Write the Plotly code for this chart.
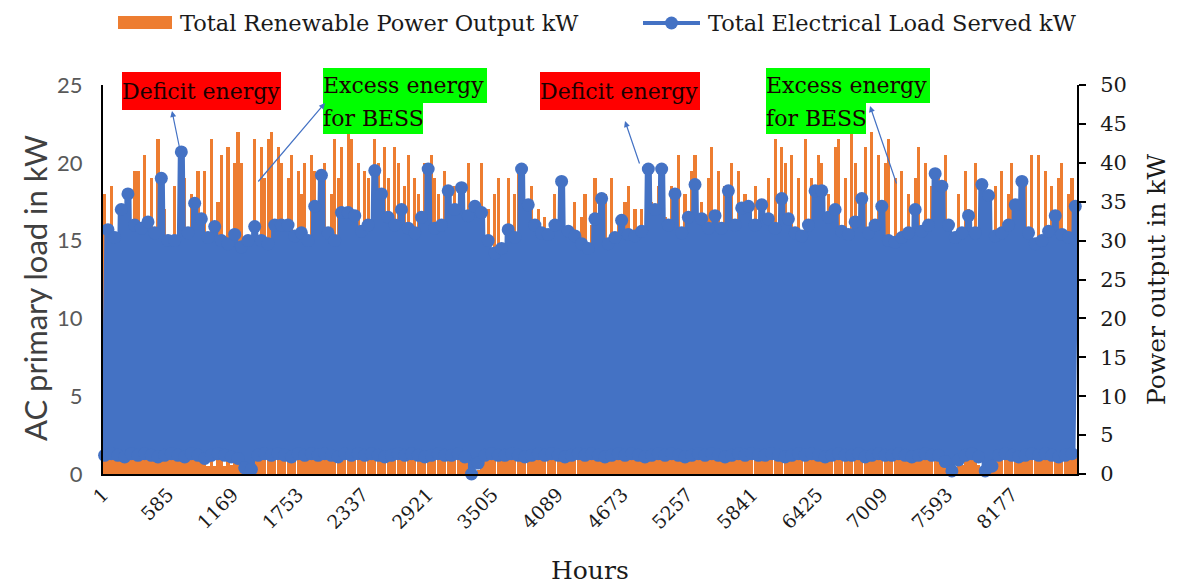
import plotly.graph_objects as go

# x axis labels (hour index, every 584 h like the Excel category axis)
hour_ticks = [1, 585, 1169, 1753, 2337, 2921, 3505, 4089, 4673, 5257, 5841, 6425, 7009, 7593, 8177]

# Total Electrical Load Served kW, read per 60 h block: peak and trough (left axis)
load_peak = [
    15.7, 15.2, 17.0, 18.0, 16.0, 15.8, 16.2, 15.5, 19.0, 15.0,
    15.0, 20.7, 15.5, 17.4, 16.4, 15.2, 15.9, 15.0, 14.8, 15.4,
    14.6, 15.0, 15.9, 15.0, 14.8, 16.0, 16.0, 16.0, 15.3, 15.5,
    15.0, 17.2, 19.2, 15.5, 15.0, 16.8, 16.8, 16.6, 15.6, 16.0,
    19.5, 18.0, 16.5, 16.0, 17.0, 15.8, 15.5, 16.5, 19.6, 15.8,
    16.0, 18.2, 17.0, 18.4, 16.6, 17.2, 16.8, 15.0, 14.2, 14.5,
    15.7, 15.2, 19.6, 17.3, 16.0, 15.5, 15.4, 16.0, 18.8, 15.6,
    15.3, 14.8, 14.5, 16.4, 17.7, 14.8, 15.2, 16.3, 15.4, 15.3,
    15.6, 19.6, 17.0, 19.6, 16.0, 18.0, 15.5, 16.5, 18.6, 16.4,
    15.8, 16.6, 15.8, 18.2, 16.0, 17.1, 17.2, 16.0, 17.3, 16.4,
    15.8, 17.7, 16.4, 15.5, 15.3, 16.0, 18.2, 18.2, 16.5, 17.0,
    15.6, 15.4, 16.2, 17.7, 15.5, 16.0, 17.2, 15.0, 14.9, 15.2,
    15.5, 17.0, 15.6, 16.0, 19.3, 18.5, 16.0, 15.2, 15.5, 16.6,
    15.5, 18.6, 17.9, 15.3, 15.5, 16.0, 17.3, 18.8, 15.5, 14.8,
    15.0, 15.6, 16.6, 15.4, 15.2, 17.2,
]
load_low = [
    1.2, 1.3, 1.2, 1.1, 1.3, 1.2, 1.3, 1.2, 1.1, 1.2,
    1.3, 1.2, 1.1, 1.3, 1.2, 1.0, 1.2, 1.3, 1.2, 1.1,
    1.0, 0.4, 0.3, 1.2, 1.3, 1.2, 1.3, 1.2, 1.1, 1.3,
    1.2, 1.3, 1.2, 1.3, 1.2, 1.1, 1.3, 1.2, 1.3, 1.2,
    1.3, 1.2, 1.1, 1.2, 1.3, 1.2, 1.3, 1.2, 1.1, 1.2,
    1.3, 1.2, 1.2, 1.3, 1.1, 0.0, 0.7, 1.2, 1.3, 1.2,
    1.2, 1.3, 1.2, 1.1, 1.2, 1.3, 1.2, 1.3, 1.2, 1.1,
    1.2, 1.3, 1.2, 1.3, 1.2, 1.1, 1.2, 1.3, 1.2, 1.3,
    1.2, 1.1, 1.2, 1.3, 1.2, 1.3, 1.2, 1.1, 1.2, 1.3,
    1.2, 1.3, 1.2, 1.1, 1.2, 1.3, 1.2, 1.3, 1.2, 1.2,
    1.3, 1.2, 1.1, 1.2, 1.3, 1.2, 1.3, 1.2, 1.1, 1.2,
    1.3, 1.2, 1.2, 1.3, 1.1, 1.2, 1.3, 1.2, 1.2, 1.3,
    1.2, 1.1, 1.2, 1.3, 1.2, 1.2, 0.8, 0.2, 0.9, 1.2,
    1.3, 1.1, 0.2, 0.5, 1.2, 1.3, 1.2, 1.1, 1.2, 1.3,
    1.2, 1.3, 1.2, 1.1, 1.2, 1.3,
]

# Total Renewable Power Output kW, read per 30 h slot (right axis)
renewable = [
    36, 2, 37, 2, 30, 33, 2, 28, 2, 39,
    39, 2, 41, 2, 38, 2, 43, 2, 34, 2,
    2, 37, 2, 30, 38, 1.8, 36, 2, 39, 2,
    39, 1.0, 43, 1.0, 35, 41, 1.0, 42, 1.2, 40,
    44, 40, 0, 0, 0.5, 43, 2, 42, 38, 43,
    44, 2, 42, 40, 2, 38, 41, 2, 39, 36,
    40, 2, 41, 39, 2, 38, 40, 2, 36, 43,
    38, 42, 2, 44, 43, 2, 40, 2, 39, 38,
    2, 43, 40, 2, 42, 38, 2, 42, 40, 2,
    37, 41, 2, 38, 36, 2, 40, 2, 41, 38,
    36, 2, 39, 33, 2, 37, 2, 34, 2, 40,
    0, 0, 0.5, 40, 2, 34, 2, 36, 38, 2,
    2, 38, 2, 36, 39, 2, 35, 2, 37, 2,
    34, 2, 33, 2, 30, 36, 2, 35, 2, 32,
    2, 35, 2, 33, 36, 2, 32, 38, 2, 34,
    36, 2, 38, 2, 33, 2, 35, 37, 2, 34,
    2, 34, 2, 38, 35, 2, 37, 2, 33, 2,
    37, 2, 41, 2, 36, 2, 39, 41, 2, 35,
    2, 38, 42, 2, 39, 2, 37, 2, 40, 2,
    39, 2, 36, 34, 2, 37, 2, 35, 2, 38,
    2, 43, 2, 42, 40, 2, 41, 2, 38, 2,
    43, 2, 38, 2, 41, 40, 2, 36, 2, 42,
    43, 2, 38, 2, 44, 40, 2, 35, 42, 2,
    44, 2, 41, 2, 40, 43, 2, 38, 2, 39,
    2, 36, 2, 38, 42, 2, 40, 2, 37, 2,
    38, 2, 41, 0, 0, 0.3, 36, 1.2, 39, 34,
    2, 40, 1.2, 0.5, 0, 0, 0.3, 37, 2, 39,
    2, 36, 40, 2, 35, 2, 38, 2, 41, 2,
    41, 2, 39, 2, 37, 2, 38, 40, 2, 36,
    38, 2,
]

load_hours, load_kw = [], []
for i, (lo, hi) in enumerate(zip(load_low, load_peak)):
    load_hours += [60 * i + 15, 60 * i + 45]
    load_kw += [lo, hi]
ren_hours = [30 * j + 15 for j in range(len(renewable))]
# tall spikes a touch thinner, low slots full width so the base band stays solid
ren_width = [28 if v > 5 else 30 for v in renewable]

SERIF = "DejaVu Serif"
SANS = "Lato"
BLUE = "#4472C4"
ORANGE = "#ED7D31"
TXT = "#1a1a1a"

# page pixels -> paper coords; plot area is x 103..1077, y 85..474 on the page
def px(x):
    return (x - 103) / 974

def py(y):
    return (474 - y) / 389

fig = go.Figure()
fig.add_trace(go.Bar(
    x=ren_hours, y=renewable, width=ren_width, yaxis="y",
    marker=dict(color=ORANGE, line_width=0),
    name="Total Renewable Power Output kW", showlegend=False,
))
fig.add_trace(go.Scatter(
    x=load_hours, y=load_kw, yaxis="y2", mode="lines+markers",
    line=dict(color=BLUE, width=7, simplify=False), marker=dict(color=BLUE, size=13),
    cliponaxis=False,
    name="Total Electrical Load Served kW", showlegend=False,
))

# page body has an 8px margin, so the figure is trimmed by that much
fig.update_layout(
    width=1169, height=577,
    margin=dict(l=95, r=100, t=77, b=111),
    plot_bgcolor="white", paper_bgcolor="white",
    bargap=0,
    xaxis=dict(
        range=[0.5, 8760.5], tickvals=hour_ticks, ticktext=[str(h) for h in hour_ticks],
        tickangle=-45, ticks="", showgrid=False, zeroline=False,
        showline=True, linecolor="black", linewidth=2,
        tickfont=dict(family=SERIF, size=19, color=TXT),
    ),
    yaxis=dict(
        side="right", range=[0, 50], dtick=5, showgrid=False, zeroline=False,
        showline=True, linecolor="black", linewidth=2,
        ticks="outside", ticklen=7, tickwidth=2, tickcolor="black",
        tickfont=dict(family=SERIF, size=21, color=TXT), ticklabelstandoff=10,
    ),
    yaxis2=dict(
        overlaying="y", side="left", range=[0, 25], dtick=5, showgrid=False, zeroline=False,
        showline=True, linecolor="black", linewidth=2, ticks="",
        tickfont=dict(family=SANS, size=22, color="#595959"), ticklabelstandoff=14,
    ),
)

# axis titles placed where the Excel chart has them
fig.add_annotation(x=px(35), y=py(288), xref="paper", yref="paper", textangle=-90,
                   xanchor="center", yanchor="middle", showarrow=False,
                   text="AC primary load in kW",
                   font=dict(family=SANS, size=31, color="#404040"))
fig.add_annotation(x=px(1156), y=py(280), xref="paper", yref="paper", textangle=-90,
                   xanchor="center", yanchor="middle", showarrow=False,
                   text="Power output in kW",
                   font=dict(family=SERIF, size=25, color=TXT))
fig.add_annotation(x=px(590), y=py(570), xref="paper", yref="paper",
                   xanchor="center", yanchor="middle", showarrow=False, text="Hours",
                   font=dict(family=SERIF, size=25, color=TXT))

# legend drawn by hand to get Excel-like swatches
fig.add_shape(type="rect", xref="paper", yref="paper",
              x0=px(118), x1=px(172), y0=py(29), y1=py(16),
              fillcolor=ORANGE, line_width=0)
fig.add_shape(type="line", xref="paper", yref="paper",
              x0=px(643), x1=px(700), y0=py(23), y1=py(23),
              line=dict(color=BLUE, width=4))
fig.add_shape(type="circle", xref="paper", yref="paper",
              x0=px(665), x1=px(678), y0=py(29.5), y1=py(16.5),
              fillcolor=BLUE, line_width=0)
for x0, label in [(178, "Total Renewable Power Output kW"), (706, "Total Electrical Load Served kW")]:
    fig.add_annotation(x=px(x0), y=py(23), xref="paper", yref="paper",
                       xanchor="left", yanchor="middle", showarrow=False, text=label,
                       font=dict(family=SERIF, size=22.5, color=TXT))

# highlighted call-out boxes
def box(text, x0, y0, x1, y1, bg):
    fig.add_annotation(x=px(x0), y=py(y0), xref="paper", yref="paper",
                       xanchor="left", yanchor="top", showarrow=False, text=text,
                       bgcolor=bg, width=x1 - x0, height=y1 - y0, align="left",
                       valign="middle", borderpad=0, borderwidth=0,
                       font=dict(family=SERIF, size=22, color="#1a0000"))

box("Deficit energy", 122, 72, 281, 110, "#FF0000")
box("Excess energy", 323, 68, 487, 103, "#00FF00")
box("for BESS", 323, 103, 423, 134, "#00FF00")
box("Deficit energy", 540, 72, 700, 110, "#FF0000")
box("Excess energy", 766, 68, 930, 103, "#00FF00")
box("for BESS", 766, 103, 866, 134, "#00FF00")

# arrows: head (hx, hy) and tail (tx, ty) in page pixels
for hx, hy, tx, ty in [(172, 111, 180, 150), (325, 103, 257, 183),
                       (625, 121, 640, 165), (870, 106, 897, 185)]:
    fig.add_annotation(x=px(hx), y=py(hy), xref="paper", yref="paper",
                       ax=tx - hx, ay=ty - hy, text="", showarrow=True,
                       arrowhead=2, arrowsize=1, arrowwidth=1.2, arrowcolor=BLUE)

fig.write_html("out.html")
